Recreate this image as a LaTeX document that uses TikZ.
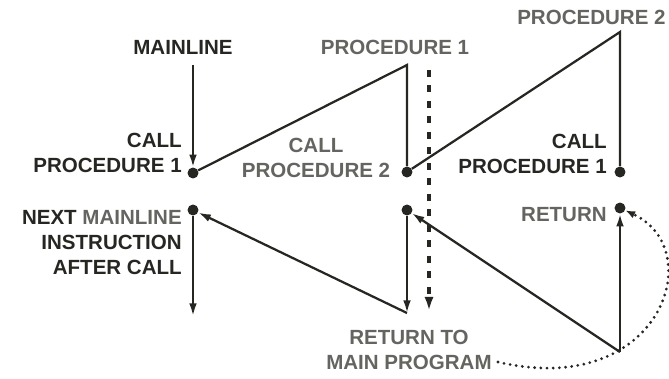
\documentclass[tikz,border=0pt]{standalone}
\usepackage{fontspec}
\setmainfont{Liberation Sans}
\usetikzlibrary{arrows.meta}
\definecolor{inkdark}{RGB}{38,38,34}
\definecolor{inkgray}{RGB}{100,100,96}
\tikzset{
  lbl/.style={font=\fontsize{14.6}{17.8}\selectfont\bfseries,text=inkdark,inner sep=0pt,align=right},
  lblgray/.style={lbl,text=inkgray},
  dotnode/.style={circle,fill=inkdark,inner sep=0pt,minimum size=7.8pt},
  flow/.style={line width=1.6pt,draw=inkdark},
  flowarr/.style={flow,-{Latex[length=9pt,width=5.5pt]}},
  dashflow/.style={line width=2.2pt,draw=inkdark,dash pattern=on 5pt off 6pt,-{Latex[length=10pt,width=6.5pt]}},
  dotflow/.style={line width=2.2pt,draw=inkdark,line cap=round,dash pattern=on 0pt off 4.4pt,-{Latex[length=7pt,width=5.5pt]}}
}
\begin{document}
\begin{tikzpicture}[x=0.025cm,y=-0.025cm]
  \useasboundingbox (0,0) rectangle (669,379);
  % points of the flow
  \coordinate (mtop) at (193,65);
  \node[dotnode] (call1) at (193,173) {};
  \coordinate (p1top) at (407,65);
  \node[dotnode] (call2) at (407,172) {};
  \coordinate (p2top) at (620,32);
  \node[dotnode] (call1b) at (620,172) {};
  \node[dotnode] (next) at (193,210) {};
  \coordinate (mend) at (193,316);
  \node[dotnode] (ret2) at (407,210) {};
  \coordinate (v1) at (407,313);
  \node[dotnode] (ret) at (620,208) {};
  \coordinate (v2) at (620,352);
  \coordinate (dtop) at (429,70);
  \coordinate (dbot) at (429,311);
  % labels
  \node[lbl] (mainline) at (183,47) {MAINLINE};
  \node[lblgray] (proc1) at (395,47) {PROCEDURE 1};
  \node[lblgray,anchor=west] (proc2) at (517,17) {PROCEDURE 2};
  \node[lbl,anchor=east] (callp1) at (182,153) {CALL\\PROCEDURE 1};
  \node[lblgray,align=center] (callp2) at (316,158) {CALL\\PROCEDURE 2};
  \node[lbl,anchor=east] (callp1b) at (607,154) {CALL\\PROCEDURE 1};
  \node[lbl,anchor=east] (nextlbl) at (182,243) {NEXT \textcolor{inkgray}{MAINLINE}\\INSTRUCTION\\AFTER CALL};
  \node[lblgray,align=center] (retmain) at (409,350) {RETURN TO\\MAIN PROGRAM};
  \node[lblgray,anchor=east] (retlbl) at (607,215) {RETURN};
  % calls
  \draw[flowarr] (mtop) -- (call1);
  \draw[flow] (call1) -- (p1top) -- (call2);
  \draw[flow] (call2) -- (p2top) -- (call1b);
  % returns
  \draw[flowarr] (next) -- (mend);
  \draw[flowarr] (ret2) -- (v1);
  \draw[flowarr] (v1) -- (next);
  \draw[flowarr] (v2) -- (ret2);
  \draw[flowarr] (v2) -- (ret);
  \draw[dashflow] (dtop) -- (dbot);
  \draw[dotflow] (retmain.east) ++(6,12) .. controls (660,400) and (710,250) .. (ret);
\end{tikzpicture}
\end{document}
